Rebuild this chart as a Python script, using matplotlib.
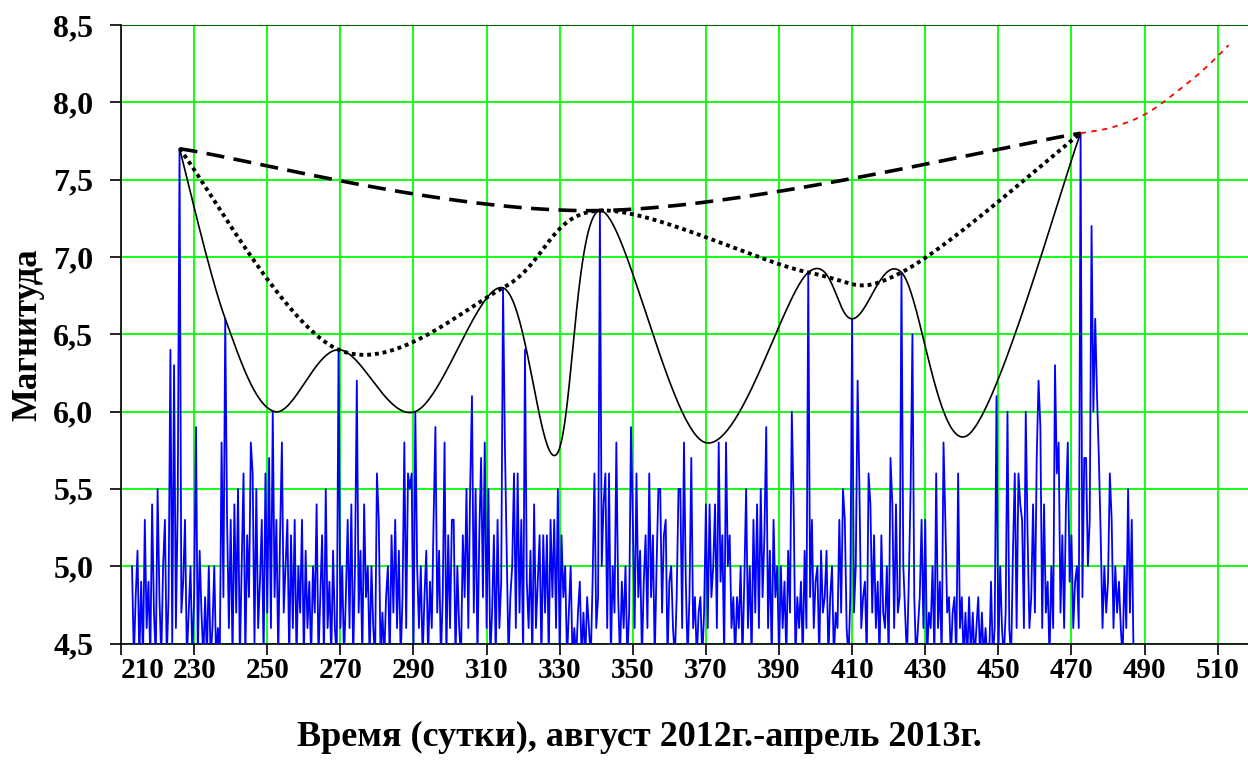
import numpy as np
import matplotlib.pyplot as plt

plt.rcParams['font.family'] = ['Liberation Serif', 'DejaVu Serif']
plt.rcParams['font.weight'] = 'bold'

# --- Data: magnitudes, every half day from day 213 ---
day_start = 213.0
day_step = 0.5
mags = [
    5.0, 4.4, 4.8, 5.1, 4.4, 4.9, 4.4, 5.3, 4.6, 4.9, 4.4, 5.4, 4.7, 4.4, 5.5, 4.8, 4.4, 5.0, 5.3, 4.4,
    4.8, 6.4, 4.5, 6.3, 4.6, 5.4, 7.7, 4.7, 4.9, 5.3, 4.4, 4.7, 5.0, 4.4, 4.8, 5.9, 4.4, 5.1, 4.7, 4.4,
    4.8, 4.4, 5.0, 4.4, 4.6, 5.0, 4.4, 4.6, 4.4, 5.8, 4.8, 6.6, 5.3, 4.6, 5.3, 4.4, 5.4, 4.7, 5.5, 4.4,
    5.0, 5.6, 4.4, 5.2, 4.8, 5.8, 5.6, 4.5, 5.5, 4.6, 4.9, 5.3, 4.4, 5.6, 4.7, 5.7, 4.6, 6.0, 4.8, 5.3,
    4.4, 5.2, 5.8, 4.7, 5.0, 5.3, 4.4, 5.2, 4.6, 5.3, 4.4, 5.0, 4.7, 5.3, 4.4, 5.1, 4.6, 4.9, 4.4, 5.0,
    4.7, 5.4, 4.4, 4.8, 5.2, 4.4, 5.5, 4.6, 4.9, 4.4, 5.1, 4.6, 4.4, 6.4, 4.6, 5.0, 4.4, 4.8, 5.3, 4.6,
    5.4, 4.4, 5.0, 6.2, 4.7, 5.1, 4.4, 5.4, 4.8, 5.0, 4.4, 5.0, 4.6, 4.4, 5.6, 5.3, 4.4, 4.7, 4.4, 4.8,
    5.0, 4.4, 5.2, 4.7, 5.3, 4.6, 5.1, 4.4, 4.8, 5.8, 4.6, 5.6, 5.5, 5.6, 4.4, 6.0, 5.0, 4.6, 5.0, 4.4,
    4.8, 5.1, 4.4, 4.9, 4.6, 5.3, 5.9, 4.7, 5.1, 4.4, 4.8, 5.8, 4.4, 5.2, 4.6, 5.3, 5.3, 4.4, 5.0, 4.6,
    4.4, 5.2, 4.8, 5.5, 4.6, 5.5, 6.1, 4.7, 5.5, 4.4, 5.2, 5.7, 4.8, 5.8, 4.6, 5.5, 4.4, 4.7, 5.2, 4.4,
    5.3, 4.6, 4.9, 6.8, 5.8, 5.1, 4.4, 4.8, 5.0, 5.6, 4.6, 5.6, 4.7, 5.3, 4.4, 6.4, 4.9, 4.6, 5.1, 4.4,
    5.4, 4.6, 4.9, 5.2, 4.4, 5.2, 4.7, 5.2, 4.4, 5.3, 4.8, 5.3, 4.6, 5.5, 4.4, 5.2, 4.8, 5.0, 4.4, 4.7,
    5.0, 4.4, 4.6, 4.4, 4.7, 4.9, 4.4, 4.7, 4.4, 4.8, 4.6, 4.4, 4.9, 5.6, 4.6, 4.8, 7.3, 5.0, 5.4, 5.6,
    4.6, 5.6, 4.4, 5.0, 4.7, 5.8, 4.8, 4.4, 4.9, 4.6, 5.0, 4.4, 4.7, 5.9, 5.3, 4.6, 5.6, 4.8, 5.1, 4.4,
    4.9, 5.2, 4.6, 5.6, 4.8, 5.2, 4.4, 5.0, 5.5, 5.5, 4.7, 5.2, 5.3, 4.4, 4.9, 5.0, 4.6, 4.4, 4.8, 5.5,
    5.5, 4.6, 5.8, 4.9, 4.4, 4.8, 5.7, 4.6, 4.8, 4.4, 4.7, 4.8, 4.4, 4.7, 5.4, 4.6, 5.4, 4.8, 5.0, 5.4,
    4.6, 5.8, 4.9, 5.2, 4.4, 5.8, 5.0, 5.2, 4.6, 4.8, 4.4, 4.8, 4.6, 5.0, 4.4, 4.9, 5.5, 4.6, 5.0, 4.4,
    5.3, 4.7, 5.4, 4.6, 5.5, 4.8, 5.2, 5.9, 4.6, 5.1, 4.4, 5.3, 4.8, 5.0, 4.4, 5.0, 4.6, 4.9, 4.4, 5.1,
    4.7, 6.0, 5.4, 4.4, 4.8, 4.6, 4.9, 4.4, 5.1, 4.6, 6.9, 4.8, 5.3, 4.6, 4.9, 5.0, 4.4, 5.1, 4.7, 4.8,
    5.1, 4.4, 4.8, 5.0, 4.4, 4.7, 4.6, 5.3, 4.7, 5.5, 5.3, 4.6, 4.4, 4.8, 6.6, 4.7, 5.0, 6.2, 5.5, 4.6,
    4.8, 4.9, 4.4, 5.6, 5.4, 4.7, 5.2, 4.6, 4.9, 4.4, 5.2, 4.7, 4.6, 5.0, 4.4, 5.7, 5.4, 4.6, 5.4, 4.7,
    4.8, 6.9, 5.0, 4.7, 4.4, 4.9, 5.5, 6.5, 4.8, 4.4, 4.6, 4.8, 5.3, 4.6, 5.3, 4.4, 4.7, 4.6, 5.0, 4.4,
    5.6, 4.6, 4.9, 4.4, 5.8, 5.3, 4.7, 4.8, 4.4, 4.7, 4.8, 4.4, 5.6, 4.6, 4.8, 4.4, 4.7, 4.4, 4.8, 4.4,
    4.7, 4.4, 4.6, 4.8, 4.4, 4.7, 4.4, 4.6, 4.4, 4.4, 4.9, 4.4, 4.6, 6.1, 4.4, 5.0, 4.6, 4.4, 4.7, 6.0,
    4.6, 4.4, 5.1, 5.6, 4.6, 5.6, 5.4, 5.3, 4.6, 6.0, 5.2, 4.6, 4.8, 5.4, 4.7, 5.7, 6.2, 5.9, 4.6, 5.4,
    4.7, 4.9, 4.4, 5.0, 4.6, 6.3, 5.6, 5.8, 4.7, 5.2, 4.6, 5.4, 5.8, 4.9, 5.2, 4.6, 4.9, 5.0, 4.6, 7.8,
    4.8, 5.7, 5.7, 5.0, 5.3, 7.2, 6.0, 6.6, 6.1, 5.7, 5.2, 4.6, 5.0, 4.7, 4.9, 5.6, 5.3, 4.6, 5.0, 4.7,
    4.9, 4.6, 4.4, 5.0, 4.6, 5.5, 4.7, 5.3, 4.4,
]

# smoothed envelope through the local extremes
black_x = [226.0, 238.5, 252.0, 269.5, 290.5, 314.5, 329.0, 341.0, 369.8, 398.0, 410.0, 423.5, 441.8, 472.5]
black_y = [7.7, 6.6, 6.0, 6.4, 6.0, 6.8, 5.72, 7.3, 5.8, 6.9, 6.6, 6.9, 5.85, 7.8]

# upper envelope through the peaks (dotted)
dotted_x = [226.0, 269.5, 314.5, 341.0, 398.0, 423.5, 472.5]
dotted_y = [7.7, 6.4, 6.8, 7.3, 6.9, 6.9, 7.8]

# long-term trend (dashed)
dashed_x = [226.0, 341.0, 472.5]
dashed_y = [7.7, 7.3, 7.8]

# forecast (red)
red_x = [472.5, 481.4, 490.7, 500.5, 507.0, 513.0]
red_y = [7.8, 7.84, 7.93, 8.10, 8.23, 8.37]

x_ticks = list(range(210, 511, 20))
y_ticks = [4.5, 5.0, 5.5, 6.0, 6.5, 7.0, 7.5, 8.0, 8.5]
y_labels = ["4,5", "5,0", "5,5", "6,0", "6,5", "7,0", "7,5", "8,0", "8,5"]


def smooth(xs, ys, n=80, sx=3.655, sy=154.6):
    """Excel-like smoothed line: Bezier segments with Catmull-Rom handles."""
    P = np.column_stack([np.asarray(xs) * sx, np.asarray(ys) * sy])
    out = []
    t = np.linspace(0, 1, n)[:, None]
    for i in range(len(P) - 1):
        p0 = P[i - 1] if i > 0 else P[i]
        p1, p2 = P[i], P[i + 1]
        p3 = P[i + 2] if i + 2 < len(P) else P[i + 1]
        b1 = p1 + (p2 - p0) / 6
        b2 = p2 - (p3 - p1) / 6
        seg = ((1 - t) ** 3 * p1 + 3 * (1 - t) ** 2 * t * b1
               + 3 * (1 - t) * t ** 2 * b2 + t ** 3 * p2)
        out.append(seg if i == 0 else seg[1:])
    out = np.vstack(out)
    return out[:, 0] / sx, out[:, 1] / sy


days = day_start + day_step * np.arange(len(mags))

fig = plt.figure(figsize=(12.48, 7.63), dpi=100)
ax = fig.add_axes([0.097, 0.1566, 0.903, 0.8106])

ax.plot(days, mags, color="#0000ff", lw=1.3, zorder=3)

bx, by = smooth(black_x, black_y)
ax.plot(bx, by, color="black", lw=1.2, zorder=4)

dx, dy = smooth(dotted_x, dotted_y)
ax.plot(dx, dy, color="black", lw=2.8, ls=(0, (1, 1)), zorder=5)

tx, ty = smooth(dashed_x, dashed_y)
ax.plot(tx, ty, color="black", lw=2.6, ls=(0, (5, 2.6)), zorder=5)

rx, ry = smooth(red_x, red_y)
ax.plot(rx, ry, color="#ff0000", lw=1.3, ls=(0, (3, 3)), zorder=5)

ax.set_xlim(210, 518.3)
ax.set_ylim(4.5, 8.5)
ax.set_xticks(x_ticks)
ax.set_yticks(y_ticks)
ax.set_yticklabels(y_labels)
ax.grid(True, color="#00ff00", lw=1.3)
ax.set_axisbelow(True)

ax.spines["right"].set_visible(False)
ax.spines["top"].set_color("#006400")
for s in ("left", "bottom"):
    ax.spines[s].set_linewidth(1.2)
ax.tick_params(axis="both", direction="out", length=8, width=1.2)
ax.tick_params(axis="x", pad=2, labelsize=21)
ax.tick_params(axis="y", pad=12, labelsize=23)
for lab in ax.get_xticklabels() + ax.get_yticklabels():
    lab.set_fontweight("bold")
ax.get_xticklabels()[0].set_horizontalalignment("left")

ax.set_xlabel("Время (сутки), август 2012г.-апрель 2013г.", fontsize=26,
              fontweight="bold")
ax.xaxis.set_label_coords(0.46, -0.125)
ax.set_ylabel("Магнитуда", fontsize=25, fontweight="bold")
ax.yaxis.set_label_coords(-0.068, 0.5)

fig.savefig("out.png", dpi=100)
